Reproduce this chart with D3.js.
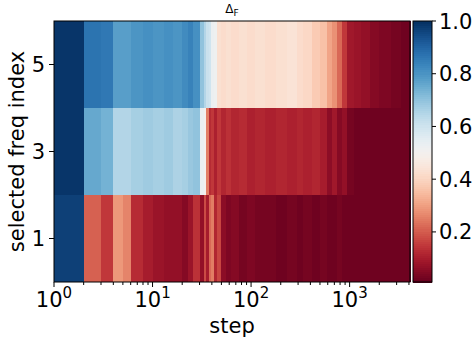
<!DOCTYPE html>
<html lang="en">
  <head>
    <meta charset="utf-8">
    <title>Delta F heatmap</title>
    <style>
      body { margin: 0; background: #fff; }
      svg { display: block; font-family: 'DejaVu Sans', sans-serif; }
    </style>
  </head>
  <body>
    <svg width="474" height="340"></svg>
    <script src="https://cdn.jsdelivr.net/npm/d3@7/dist/d3.min.js"></script>
    <script>
      // step boundaries of the colour cells (log x axis)
      const step_edges = [1, 2, 3, 4, 5, 6, 8, 10, 13, 16, 20, 23, 26, 30, 33, 35, 37, 39, 42, 45,
        50, 56, 63, 75, 90, 110, 140, 180, 230, 290, 340, 420, 500, 590, 660, 750, 840, 940,
        1100, 1300, 1600, 2000, 2600, 3300, 4100];

      // one value per cell
      const row_5 = [0.99, 0.87, 0.86, 0.78, 0.78, 0.80, 0.81, 0.80, 0.81, 0.80,
        0.82, 0.84, 0.81, 0.70, 0.65, 0.61, 0.60, 0.53, 0.52, 0.43,
        0.42, 0.43, 0.42, 0.43, 0.42, 0.43, 0.42, 0.43, 0.44, 0.42,
        0.41, 0.38, 0.36, 0.31, 0.28, 0.22, 0.15, 0.09, 0.08, 0.07,
        0.05, 0.04, 0.03, 0.02];
      const row_3 = [0.99, 0.76, 0.74, 0.65, 0.65, 0.67, 0.68, 0.67, 0.68, 0.66,
        0.67, 0.69, 0.70, 0.53, 0.50, 0.25, 0.13, 0.15, 0.11, 0.15,
        0.12, 0.14, 0.12, 0.13, 0.11, 0.12, 0.11, 0.12, 0.11, 0.12,
        0.11, 0.12, 0.10, 0.06, 0.09, 0.05, 0.07, 0.03, 0.02, 0.02,
        0.02, 0.02, 0.02, 0.02];
      const row_1 = [0.97, 0.21, 0.15, 0.29, 0.26, 0.13, 0.10, 0.08, 0.07, 0.07,
        0.05, 0.08, 0.14, 0.07, 0.18, 0.10, 0.22, 0.25, 0.12, 0.17,
        0.06, 0.04, 0.05, 0.03, 0.04, 0.03, 0.03, 0.02, 0.03, 0.02,
        0.03, 0.02, 0.03, 0.02, 0.02, 0.03, 0.02, 0.02, 0.02, 0.02,
        0.02, 0.02, 0.02, 0.02];

      const freq_index = [1, 3, 5];
      const rows = [row_1, row_3, row_5];
      const x_ticks = [1, 10, 100, 1000];
      const y_ticks = [1, 3, 5];
      const cbar_ticks = [0.2, 0.4, 0.6, 0.8, 1.0];

      const svg = d3.select('svg');
      const margin = {top: 21, right: 64, bottom: 58, left: 54};
      const plot_right = 410;
      const plot_bottom = 282;

      const x_scale = d3.scaleLog()
        .domain([1, 4100])
        .range([margin.left, plot_right]);
      const y_scale = d3.scaleLinear()
        .domain([0, 6])
        .range([plot_bottom, margin.top]);
      const color = d3.scaleSequential(d3.interpolateRdBu)
        .domain([0.01, 1.0]);

      // heatmap cells
      const cells = [];
      rows.forEach((vals, r) => {
        vals.forEach((v, i) => {
          cells.push({x0: step_edges[i], x1: step_edges[i + 1], y: freq_index[r], v: v});
        });
      });
      svg.append('g')
        .attr('shape-rendering', 'crispEdges')
        .selectAll('rect')
        .data(cells).enter()
        .append('rect')
          .attr('x', d => x_scale(d.x0))
          .attr('y', d => y_scale(d.y + 1))
          .attr('width', d => x_scale(d.x1) - x_scale(d.x0) + 0.5)
          .attr('height', d => y_scale(d.y - 1) - y_scale(d.y + 1))
          .attr('fill', d => color(d.v));

      // frame
      svg.append('rect')
        .attr('x', margin.left)
        .attr('y', margin.top)
        .attr('width', plot_right - margin.left)
        .attr('height', plot_bottom - margin.top)
        .attr('fill', 'none')
        .attr('stroke', '#000')
        .attr('stroke-width', 1);

      // x axis: major + minor log ticks
      const minor = [];
      for (let dec = 1; dec <= 1000; dec *= 10) {
        for (let k = 2; k <= 9; k++) {
          if (dec * k <= 4100) minor.push(dec * k);
        }
      }
      const x_axis_g = svg.append('g')
        .attr('transform', `translate(0,${plot_bottom})`);
      x_axis_g.selectAll('line.minor')
        .data(minor).enter()
        .append('line')
          .attr('x1', d => x_scale(d)).attr('x2', d => x_scale(d))
          .attr('y1', 0).attr('y2', 3)
          .attr('stroke', '#000');
      x_axis_g.selectAll('line.major')
        .data(x_ticks).enter()
        .append('line')
          .attr('x1', d => x_scale(d)).attr('x2', d => x_scale(d))
          .attr('y1', 0).attr('y2', 5)
          .attr('stroke', '#000');
      const x_labels = x_axis_g.selectAll('text')
        .data(x_ticks).enter()
        .append('text')
          .attr('x', d => x_scale(d))
          .attr('y', 25)
          .attr('text-anchor', 'middle')
          .attr('font-size', '21px')
          .attr('fill', '#000');
      x_labels.append('tspan').text('10');
      x_labels.append('tspan')
        .attr('dy', -9)
        .attr('font-size', '15px')
        .text(d => Math.round(Math.log10(d)));

      // y axis
      const y_axis_g = svg.append('g');
      y_axis_g.selectAll('line')
        .data(y_ticks).enter()
        .append('line')
          .attr('x1', margin.left - 5).attr('x2', margin.left)
          .attr('y1', d => y_scale(d)).attr('y2', d => y_scale(d))
          .attr('stroke', '#000');
      y_axis_g.selectAll('text')
        .data(y_ticks).enter()
        .append('text')
          .attr('x', margin.left - 9)
          .attr('y', d => y_scale(d))
          .attr('dy', '0.36em')
          .attr('text-anchor', 'end')
          .attr('font-size', '21px')
          .text(d => d);

      // axis labels and title
      svg.append('text')
        .attr('x', (margin.left + plot_right) / 2)
        .attr('y', 333)
        .attr('text-anchor', 'middle')
        .attr('font-size', '21px')
        .text('step');
      svg.append('text')
        .attr('transform', `translate(24,${(margin.top + plot_bottom) / 2}) rotate(-90)`)
        .attr('text-anchor', 'middle')
        .attr('font-size', '21px')
        .text('selected freq index');
      const title = svg.append('text')
        .attr('x', (margin.left + plot_right) / 2)
        .attr('y', 13)
        .attr('text-anchor', 'middle')
        .attr('font-size', '12px');
      title.append('tspan').text('\u0394');
      title.append('tspan').attr('dy', 3).attr('font-size', '9px').text('F');

      // colorbar
      const cb_x = 413, cb_w = 19;
      const cb_scale = d3.scaleLinear()
        .domain([0.01, 1.0])
        .range([plot_bottom, margin.top]);
      const cb_steps = d3.range(0, 128).map(i => 0.01 + (1.0 - 0.01) * i / 128);
      const cb_h = (plot_bottom - margin.top) / 128;
      svg.append('g')
        .attr('shape-rendering', 'crispEdges')
        .selectAll('rect')
        .data(cb_steps).enter()
        .append('rect')
          .attr('x', cb_x)
          .attr('y', d => cb_scale(d) - cb_h)
          .attr('width', cb_w)
          .attr('height', cb_h + 0.5)
          .attr('fill', d => color(d + (1.0 - 0.01) / 256));
      svg.append('rect')
        .attr('x', cb_x).attr('y', margin.top)
        .attr('width', cb_w).attr('height', plot_bottom - margin.top)
        .attr('fill', 'none').attr('stroke', '#000');
      const cb_axis = svg.append('g');
      cb_axis.selectAll('line')
        .data(cbar_ticks).enter()
        .append('line')
          .attr('x1', cb_x + cb_w).attr('x2', cb_x + cb_w + 4)
          .attr('y1', d => cb_scale(d)).attr('y2', d => cb_scale(d))
          .attr('stroke', '#000');
      cb_axis.selectAll('text')
        .data(cbar_ticks).enter()
        .append('text')
          .attr('x', cb_x + cb_w + 7)
          .attr('y', d => cb_scale(d))
          .attr('dy', '0.36em')
          .attr('font-size', '21px')
          .text(d => d.toFixed(1));
    </script>
  </body>
</html>
